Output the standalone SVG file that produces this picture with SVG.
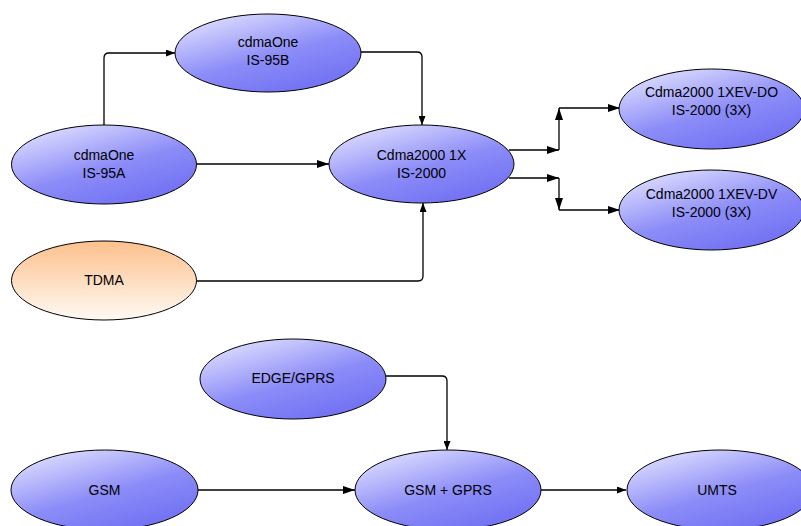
<svg xmlns="http://www.w3.org/2000/svg" width="801" height="526" viewBox="0 0 801 526">
<defs>
<linearGradient id="blue" x1="0.15" y1="0" x2="0.75" y2="0.9">
<stop offset="0" stop-color="#e2e2ff"/>
<stop offset="0.6" stop-color="#8c8cf8"/>
<stop offset="1" stop-color="#7474f4"/>
</linearGradient>
<linearGradient id="orange" x1="0" y1="0" x2="0" y2="1">
<stop offset="0" stop-color="#fcc08c"/>
<stop offset="1" stop-color="#fffaf4"/>
</linearGradient>
<marker id="ah" markerWidth="12" markerHeight="8" refX="12" refY="4" orient="auto" markerUnits="userSpaceOnUse">
<path d="M0,0 L12,4 L0,8 Z" fill="#000"/>
</marker>
<marker id="as" markerWidth="9" markerHeight="7" refX="9" refY="3.5" orient="auto" markerUnits="userSpaceOnUse">
<path d="M0,0 L9,3.5 L0,7 Z" fill="#000"/>
</marker>
</defs>
<style>
.b{fill:url(#blue);stroke:#000;stroke-width:1}
.o{fill:url(#orange);stroke:#000;stroke-width:1}
text{font-family:"Liberation Sans",Arial,sans-serif;font-size:14px;fill:#000;text-anchor:middle}
.c path{fill:none;stroke:#000;stroke-width:1.3}
</style>
<g class="c" id="connectors">
<path d="M104,125 V58 Q104,53 109,53 H175" marker-end="url(#as)"/>
<path d="M361,52 H417 Q422,52 422,57 V125" marker-end="url(#as)"/>
<path d="M196,164 H329" marker-end="url(#ah)"/>
<path d="M196,281 H418 Q423,281 423,276 V203" marker-end="url(#as)"/>
<path d="M509,150 H559" marker-end="url(#ah)"/>
<path d="M559,150 V108" marker-end="url(#ah)"/>
<path d="M559,108 H620" marker-end="url(#ah)"/>
<path d="M509,178 H559" marker-end="url(#ah)"/>
<path d="M559,178 V210" marker-end="url(#ah)"/>
<path d="M559,210 H620" marker-end="url(#ah)"/>
<path d="M386,376 H442 Q447,376 447,381 V450" marker-end="url(#as)"/>
<path d="M198,490 H355" marker-end="url(#ah)"/>
<path d="M541,490 H626" marker-end="url(#as)"/>
</g>
<g id="is95b"><ellipse class="b" cx="268" cy="53" rx="93" ry="39"/><text x="268" y="47">cdmaOne</text><text x="268" y="65">IS-95B</text></g>
<g id="is95a"><ellipse class="b" cx="104" cy="164.5" rx="92.5" ry="39.5"/><text x="104" y="160">cdmaOne</text><text x="104" y="178">IS-95A</text></g>
<g id="tdma"><ellipse class="o" cx="104" cy="280.5" rx="92.5" ry="39.5"/><text x="104" y="285">TDMA</text></g>
<g id="cdma1x"><ellipse class="b" cx="421.5" cy="164" rx="92.5" ry="39"/><text x="421.5" y="160">Cdma2000 1X</text><text x="421.5" y="178">IS-2000</text></g>
<g id="evdo"><ellipse class="b" cx="711.5" cy="109" rx="92.5" ry="40"/><text x="711.5" y="97">Cdma2000 1XEV-DO</text><text x="711.5" y="115">IS-2000 (3X)</text></g>
<g id="evdv"><ellipse class="b" cx="711.5" cy="210" rx="92.5" ry="40"/><text x="711.5" y="199">Cdma2000 1XEV-DV</text><text x="711.5" y="217">IS-2000 (3X)</text></g>
<g id="edge"><ellipse class="b" cx="293" cy="379" rx="93" ry="40"/><text x="293" y="383">EDGE/GPRS</text></g>
<g id="gsm"><ellipse class="b" cx="104.5" cy="490" rx="93.5" ry="40"/><text x="104.5" y="495">GSM</text></g>
<g id="gsmgprs"><ellipse class="b" cx="448" cy="490" rx="93" ry="40"/><text x="448" y="495">GSM + GPRS</text></g>
<g id="umts"><ellipse class="b" cx="720" cy="490" rx="93" ry="40"/><text x="717" y="495">UMTS</text></g>
</svg>
